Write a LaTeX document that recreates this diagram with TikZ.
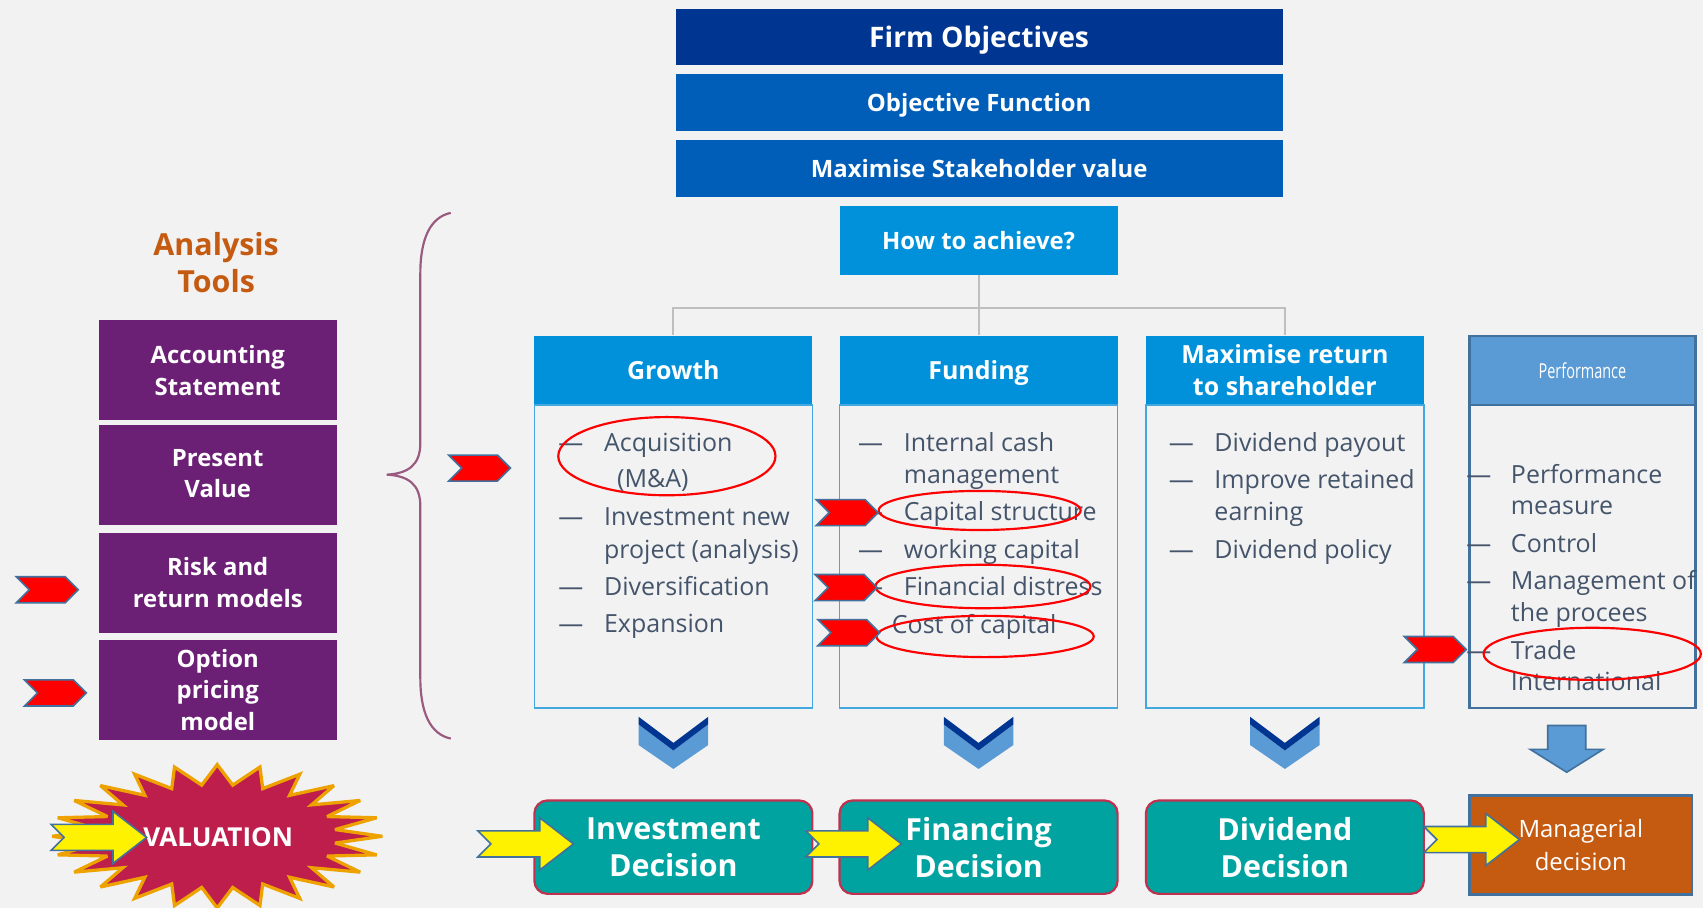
\documentclass[tikz,border=0pt]{standalone}
\usepackage{fontspec}
\usepackage{graphicx}
\setmainfont{Open Sans}
\usetikzlibrary{shapes.arrows,shapes.symbols}
\definecolor{bg}{HTML}{F2F2F2}
\definecolor{navy}{HTML}{003591}
\definecolor{midblue}{HTML}{005EB8}
\definecolor{lblue}{HTML}{0091DA}
\definecolor{borderblue}{HTML}{41A8E0}
\definecolor{perfblue}{HTML}{5B9BD5}
\definecolor{steel}{HTML}{41719C}
\definecolor{purp}{HTML}{6B1F75}
\definecolor{orng}{HTML}{C55A11}
\definecolor{tealbox}{HTML}{00A3A0}
\definecolor{crim}{HTML}{C0304F}
\definecolor{slate}{HTML}{44546A}
\definecolor{bracec}{HTML}{9A5A80}
\definecolor{starred}{HTML}{BE1E4B}
\definecolor{starorange}{HTML}{EDA200}
\definecolor{conn}{HTML}{BFBFBF}
\newcommand{\fsz}[1]{\fontsize{#1}{#1}\selectfont}
\newcommand{\fszl}[2]{\fontsize{#1}{#2}\selectfont}
\tikzset{
  topbox/.style={rectangle, fill=midblue, text=white, minimum width=559, minimum height=53, inner sep=0, text height=16, text depth=0, font=\bfseries\fsz{22}},
  hdr/.style={rectangle, fill=lblue, text=white, minimum width=256, minimum height=64, inner sep=0, align=center, font=\bfseries\fszl{23}{29}},
  colbody/.style={rectangle, draw=borderblue, line width=1.5, minimum width=256, minimum height=279, inner sep=0},
  tool/.style={rectangle, fill=purp, text=white, minimum width=219, minimum height=92, inner sep=0, align=center, font=\bfseries\fszl{22}{29}},
  item/.style={anchor=west, inner sep=0, text=slate, text height=16, text depth=0, font=\fsz{23}},
  decision/.style={rectangle, rounded corners=12, fill=tealbox, draw=crim, line width=2, text=white, minimum width=256, minimum height=86, inner sep=0, align=center, font=\bfseries\fszl{28}{34}},
  redchev/.style={signal, signal to=east, signal from=west, fill=red, draw=steel, line width=1.5, minimum width=57, minimum height=24, inner sep=0},
  ring/.style={draw=red, line width=2},
  connector/.style={draw=conn, line width=2},
  yarrow/.pic={\filldraw[fill=yellow, draw=steel, line width=1.5, line join=miter] (0,-12) -- (57,-12) -- (57,-24) -- (88,0) -- (57,24) -- (57,12) -- (0,12) -- (12,0) -- cycle;},
  downchev/.pic={\fill[perfblue] (-32,7) -- (0,31) -- (32,7) -- (32,26) -- (0,48) -- (-32,26) -- cycle;
                 \fill[navy] (-32,0) -- (0,24) -- (32,0) -- (32,7) -- (0,31) -- (-32,7) -- cycle;}
}
\begin{document}
\begin{tikzpicture}[x=1pt,y=-1pt]
\useasboundingbox (0,0) rectangle (1568,836);
\fill[bg] (0,0) rectangle (1568,836);

% top stack
\node[topbox, fill=navy, minimum height=52, text height=19, font=\bfseries\fsz{26}] (firm) at (901.5,34) {Firm Objectives};
\node[topbox] (objf) at (901.5,94.5) {Objective Function};
\node[topbox] (maxs) at (901.5,155) {Maximise Stakeholder value};
\node[rectangle, fill=lblue, text=white, minimum width=256, minimum height=63, inner sep=0, text height=16, text depth=0, font=\bfseries\fsz{22}] (how) at (901,221.5) {How to achieve?};

% column headers and bodies
\node[hdr, text height=17, text depth=0] (growth) at (620,341) {Growth};
\node[hdr, text height=17, text depth=0] (funding) at (901,341) {Funding};
\node[hdr] (maxret) at (1183,341) {Maximise return\\to shareholder};
\node[hdr, fill=perfblue, draw=steel, line width=2, minimum width=208, font=\fsz{19}] (perf) at (1457,341) {\scalebox{0.7}[1]{Performance}};
\node[colbody] (growthb) at (620,512.5) {};
\node[colbody] (fundingb) at (901,512.5) {};
\node[colbody] (maxretb) at (1183,512.5) {};
\node[colbody, draw=steel, line width=2, minimum width=208] (perfb) at (1457,512.5) {};

% connectors
\draw[connector] (how.south) -- ++(0,30) -| (growth.north);
\draw[connector] (how.south) -- (funding.north);
\draw[connector] (how.south) -- ++(0,30) -| (maxret.north);

% analysis tools
\node[text=orng, align=center, inner sep=0, font=\bfseries\fszl{28}{34}] (tools) at (199,242) {Analysis\\Tools};
\node[tool] (acc) at (200.5,341) {Accounting\\Statement};
\node[tool, text depth=2] (pv) at (200.5,437) {Present\\Value};
\node[tool] (risk) at (200.5,536.5) {Risk and\\return models};
\node[tool] (opt) at (200.5,635) {Option\\pricing\\model};

% brace
\draw[bracec, line width=2] (415,196) .. controls (396,200) and (387,220) .. (387,252) -- (387,408) .. controls (387,428) and (376,436) .. (356,437) .. controls (376,438) and (387,446) .. (387,466) -- (387,624) .. controls (387,656) and (396,676) .. (415,680);

% Growth items
\node[item] (gd1) at (514,408) {—}; \node[item] (g1) at (556,408) {Acquisition};
\node[item] (g1b) at (568,441) {(M\&A)};
\node[item] (gd2) at (514,476) {—}; \node[item] (g2) at (556,476) {Investment new};
\node[item] (g2b) at (556,506) {project (analysis)};
\node[item] (gd3) at (514,540) {—}; \node[item] (g3) at (556,540) {Diversification};
\node[item] (gd4) at (514,574) {—}; \node[item] (g4) at (556,574) {Expansion};

% Funding items
\node[item] (fd1) at (790,408) {—}; \node[item] (f1) at (832,408) {Internal cash};
\node[item] (f1b) at (832,437) {management};
\node[item] (fd2) at (790,471) {—}; \node[item] (f2) at (832,471) {Capital structure};
\node[item] (fd3) at (790,506) {—}; \node[item] (f3) at (832,506) {working capital};
\node[item] (fd4) at (790,540) {—}; \node[item] (f4) at (832,540) {Financial distress};
\node[item] (f5) at (821,575) {Cost of capital};

% Maximise return items
\node[item] (md1) at (1076,408) {—}; \node[item] (m1) at (1118,408) {Dividend payout};
\node[item] (md2) at (1076,442) {—}; \node[item] (m2) at (1118,442) {Improve retained};
\node[item] (m2b) at (1118,471) {earning};
\node[item] (md3) at (1076,506) {—}; \node[item] (m3) at (1118,506) {Dividend policy};

% Performance items
\node[item] (pd1) at (1350,437) {—}; \node[item] (p1) at (1391,437) {Performance};
\node[item] (p1b) at (1391,466) {measure};
\node[item] (pd2) at (1350,501) {—}; \node[item] (p2) at (1391,501) {Control};
\node[item] (pd3) at (1350,535) {—}; \node[item] (p3) at (1391,535) {Management of};
\node[item] (p3b) at (1391,564) {the procees};
\node[item] (pd4) at (1350,599) {—}; \node[item] (p4) at (1391,599) {Trade};
\node[item] (p4b) at (1391,628) {International};

% red rings
\draw[ring] (614,420) ellipse [x radius=100, y radius=36];
\draw[ring] (902,470) ellipse [x radius=93, y radius=18];
\draw[ring] (905,540) ellipse [x radius=99, y radius=20];
\draw[ring] (907,586) ellipse [x radius=100, y radius=19];
\draw[ring] (1466,602) ellipse [x radius=100, y radius=24];

% red chevrons
\node[redchev] (rc1) at (441.5,431) {};
\node[redchev] (rc2) at (43.5,543) {};
\node[redchev] (rc3) at (51,638) {};
\node[redchev] (rc4) at (780,472) {};
\node[redchev] (rc5) at (779,541) {};
\node[redchev] (rc6) at (781.5,582.5) {};
\node[redchev] (rc7) at (1321.5,598) {};

% down chevrons
\pic at (620,660) {downchev};
\pic at (901,660) {downchev};
\pic at (1183,660) {downchev};
\filldraw[fill=perfblue, draw=steel, line width=1.5, line join=miter] (1425,668) -- (1460,668) -- (1460,690) -- (1476,690) -- (1442.5,711) -- (1409,690) -- (1425,690) -- cycle;

% decisions
\node[decision] (inv) at (620,780) {Investment\\Decision};
\node[decision] (fin) at (901,780) {Financing\\Decision};
\node[decision] (div) at (1183,780) {Dividend\\Decision};
\node[rectangle, fill=orng, draw=steel, line width=2, minimum width=205, minimum height=91, inner sep=0, text=white, align=center, font=\fszl{22}{31}] (man) at (1455.5,778) {Managerial\\decision};

% valuation starburst
\path[fill=starred, draw=starorange, line width=3, line join=miter, miter limit=4] (352,770) \foreach \i in {1,...,47}{ -- ({200+152*(1-0.28*mod(\i,2))*cos(7.5*\i)}, {770+66*(1-0.28*mod(\i,2))*sin(7.5*\i)}) } -- cycle;
\node[text=white, inner sep=0, font=\bfseries\fsz{24}] (val) at (201,771) {VALUATION};

% yellow arrows
\pic at (47,771) {yarrow};
\pic at (440,777) {yarrow};
\pic at (742,777) {yarrow};
\pic at (1311,773) {yarrow};
\end{tikzpicture}
\end{document}
